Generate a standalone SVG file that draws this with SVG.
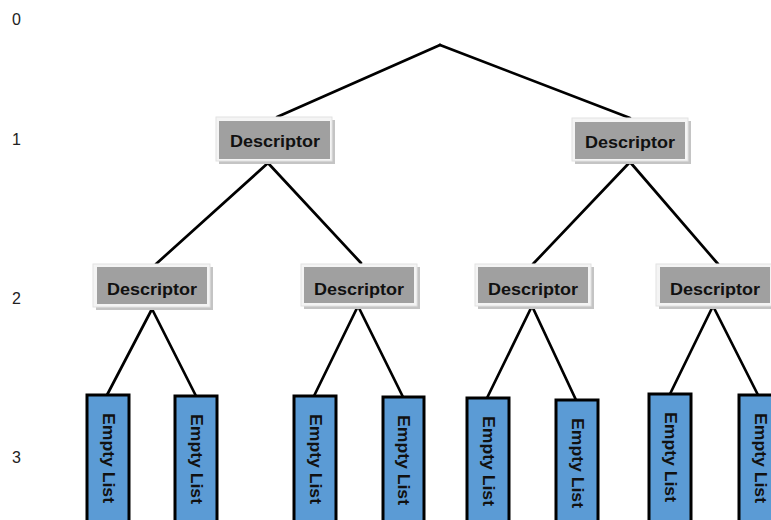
<svg xmlns="http://www.w3.org/2000/svg" width="771" height="520" viewBox="0 0 771 520">
<style>
.lvl{font-family:"Liberation Sans",Arial,sans-serif;font-size:16px;fill:#222}
.shadow{fill:#c4c4c4}
.frame{fill:#f4f4f4;stroke:#e2e2e2;stroke-width:1}
.inner{fill:#a0a0a0}
.dtext{font-family:"Liberation Sans",Arial,sans-serif;font-size:16.5px;font-weight:bold;fill:#111;text-anchor:middle}
.list{fill:#5b9bd5;stroke:#000;stroke-width:3}
.ltext{font-family:"Liberation Sans",Arial,sans-serif;font-size:16px;font-weight:bold;fill:#111;text-anchor:middle;dominant-baseline:central}
.conn line{stroke:#000;stroke-width:2.7;stroke-linecap:round}
</style>
<rect width="771" height="520" fill="#fff"/>
<g id="levels">
<text class="lvl" x="12" y="25">0</text>
<text class="lvl" x="12" y="145">1</text>
<text class="lvl" x="12" y="304">2</text>
<text class="lvl" x="12" y="463">3</text>
</g>
<g id="connectors" class="conn">
<line x1="440" y1="45" x2="277" y2="117"/>
<line x1="440" y1="45" x2="630" y2="118"/>
<line x1="268" y1="163" x2="156" y2="264"/>
<line x1="268" y1="163" x2="361" y2="263"/>
<line x1="630" y1="162" x2="533" y2="264"/>
<line x1="630" y1="162" x2="718" y2="264"/>
<line x1="152" y1="309" x2="107" y2="395"/>
<line x1="152" y1="309" x2="196" y2="396"/>
<line x1="358" y1="306" x2="314" y2="396"/>
<line x1="358" y1="306" x2="403" y2="397"/>
<line x1="532" y1="306" x2="487" y2="398"/>
<line x1="532" y1="306" x2="576" y2="400"/>
<line x1="713" y1="306" x2="670" y2="394"/>
<line x1="713" y1="306" x2="758" y2="395"/>
</g>
<g id="desc-1a">
<rect class="shadow" x="219" y="120" width="116" height="44"/>
<rect class="frame" x="216" y="117" width="116" height="44"/>
<rect class="inner" x="219" y="121" width="111" height="38"/>
<text class="dtext" x="275" y="147" textLength="90" lengthAdjust="spacingAndGlyphs">Descriptor</text>
</g>
<g id="desc-1b">
<rect class="shadow" x="575" y="121" width="116" height="43"/>
<rect class="frame" x="572" y="118" width="116" height="43"/>
<rect class="inner" x="575" y="122" width="110" height="37"/>
<text class="dtext" x="630" y="148" textLength="90" lengthAdjust="spacingAndGlyphs">Descriptor</text>
</g>
<g id="desc-2a">
<rect class="shadow" x="96" y="267" width="117" height="43"/>
<rect class="frame" x="93" y="264" width="117" height="43"/>
<rect class="inner" x="97" y="267" width="110" height="37"/>
<text class="dtext" x="152" y="295" textLength="90" lengthAdjust="spacingAndGlyphs">Descriptor</text>
</g>
<g id="desc-2b">
<rect class="shadow" x="304" y="267" width="116" height="42"/>
<rect class="frame" x="301" y="264" width="116" height="42"/>
<rect class="inner" x="304" y="267" width="110" height="36"/>
<text class="dtext" x="359" y="295" textLength="90" lengthAdjust="spacingAndGlyphs">Descriptor</text>
</g>
<g id="desc-2c">
<rect class="shadow" x="478" y="267" width="116" height="42"/>
<rect class="frame" x="475" y="264" width="116" height="42"/>
<rect class="inner" x="478" y="267" width="110" height="36"/>
<text class="dtext" x="533" y="295" textLength="90" lengthAdjust="spacingAndGlyphs">Descriptor</text>
</g>
<g id="desc-2d">
<rect class="shadow" x="659" y="267" width="116" height="42"/>
<rect class="frame" x="656" y="264" width="116" height="42"/>
<rect class="inner" x="660" y="267" width="110" height="36"/>
<text class="dtext" x="715" y="295" textLength="90" lengthAdjust="spacingAndGlyphs">Descriptor</text>
</g>
<g id="list-1"><rect class="list" x="87" y="395" width="42" height="135"/><text class="ltext" transform="translate(108,458) rotate(90)" textLength="90" lengthAdjust="spacingAndGlyphs">Empty List</text></g>
<g id="list-2"><rect class="list" x="175" y="396" width="42" height="135"/><text class="ltext" transform="translate(196,459) rotate(90)" textLength="90" lengthAdjust="spacingAndGlyphs">Empty List</text></g>
<g id="list-3"><rect class="list" x="294" y="396" width="42" height="135"/><text class="ltext" transform="translate(315,459) rotate(90)" textLength="90" lengthAdjust="spacingAndGlyphs">Empty List</text></g>
<g id="list-4"><rect class="list" x="383" y="397" width="41" height="135"/><text class="ltext" transform="translate(403.5,460) rotate(90)" textLength="90" lengthAdjust="spacingAndGlyphs">Empty List</text></g>
<g id="list-5"><rect class="list" x="467" y="398" width="42" height="135"/><text class="ltext" transform="translate(488,461) rotate(90)" textLength="90" lengthAdjust="spacingAndGlyphs">Empty List</text></g>
<g id="list-6"><rect class="list" x="556" y="400" width="42" height="135"/><text class="ltext" transform="translate(577,463) rotate(90)" textLength="90" lengthAdjust="spacingAndGlyphs">Empty List</text></g>
<g id="list-7"><rect class="list" x="649" y="394" width="42" height="135"/><text class="ltext" transform="translate(670,457) rotate(90)" textLength="90" lengthAdjust="spacingAndGlyphs">Empty List</text></g>
<g id="list-8"><rect class="list" x="739" y="395" width="42" height="135"/><text class="ltext" transform="translate(760,458) rotate(90)" textLength="90" lengthAdjust="spacingAndGlyphs">Empty List</text></g>
</svg>
